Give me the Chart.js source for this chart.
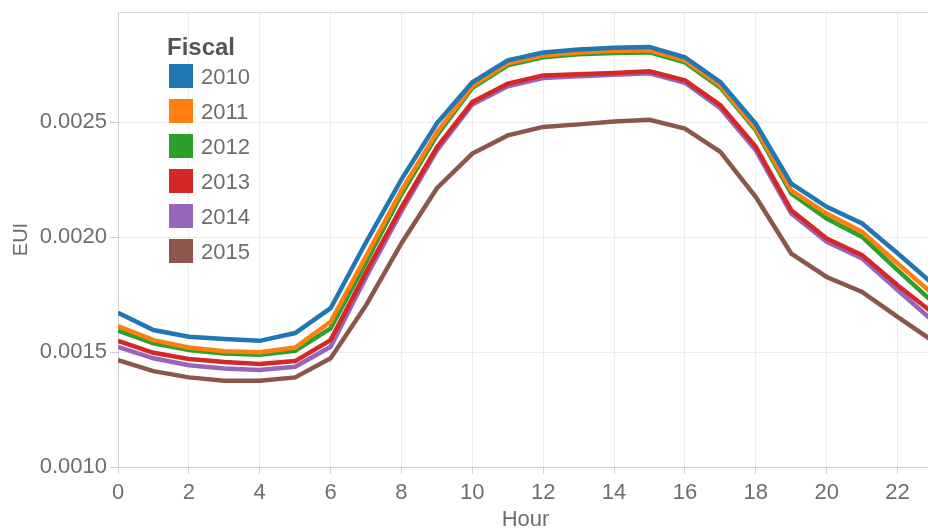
<!DOCTYPE html>
<html>
<head>
<meta charset="utf-8">
<script src="https://cdn.jsdelivr.net/npm/chart.js@4.4.0/dist/chart.umd.min.js"></script>
<style>
  html, body { margin: 0; padding: 0; background: #fff; overflow: hidden; }
  #wrap { width: 928px; height: 531px; overflow: hidden; }
</style>
</head>
<body>
<div id="wrap"><canvas id="euiChart" width="950" height="531"></canvas></div>
<script>
    // 시간대 (x축)
    const hours = [0, 1, 2, 3, 4, 5, 6, 7, 8, 9, 10, 11, 12, 13, 14, 15, 16, 17, 18, 19, 20, 21, 22, 23];

    const fiscalYears = ['2010', '2011', '2012', '2013', '2014', '2015'];
    const lineColors = ['#1f77b4', '#ff7f0e', '#2ca02c', '#d62728', '#9467bd', '#8c564b'];

    const eui2010 = [0.001671, 0.001596, 0.001567, 0.001557, 0.001549, 0.001583, 0.001691, 0.001978, 0.002252, 0.002496, 0.002674, 0.002770,
                     0.002804, 0.002817, 0.002824, 0.002828, 0.002783, 0.002675, 0.002493, 0.002233, 0.002132, 0.002060, 0.001930, 0.001796];
    const eui2011 = [0.001613, 0.001552, 0.001520, 0.001504, 0.001499, 0.001520, 0.001632, 0.001917, 0.002204, 0.002457, 0.002657, 0.002757,
                     0.002791, 0.002804, 0.002811, 0.002813, 0.002770, 0.002659, 0.002473, 0.002204, 0.002103, 0.002023, 0.001886, 0.001752];
    const eui2012 = [0.001593, 0.001538, 0.001509, 0.001494, 0.001488, 0.001506, 0.001603, 0.001891, 0.002187, 0.002443, 0.002650, 0.002748,
                     0.002783, 0.002796, 0.002802, 0.002804, 0.002761, 0.002651, 0.002465, 0.002190, 0.002081, 0.002001, 0.001857, 0.001717];
    const eui2013 = [0.001549, 0.001497, 0.001470, 0.001457, 0.001448, 0.001461, 0.001552, 0.001848, 0.002130, 0.002391, 0.002588, 0.002668,
                     0.002704, 0.002709, 0.002715, 0.002722, 0.002683, 0.002574, 0.002393, 0.002117, 0.001994, 0.001922, 0.001791, 0.001670];
    const eui2014 = [0.001523, 0.001473, 0.001443, 0.001429, 0.001422, 0.001436, 0.001523, 0.001826, 0.002113, 0.002378, 0.002578, 0.002657,
                     0.002693, 0.002700, 0.002707, 0.002713, 0.002672, 0.002561, 0.002378, 0.002103, 0.001980, 0.001907, 0.001770, 0.001635];
    const eui2015 = [0.001465, 0.001417, 0.001390, 0.001375, 0.001375, 0.001390, 0.001473, 0.001704, 0.001974, 0.002213, 0.002364, 0.002443,
                     0.002480, 0.002491, 0.002504, 0.002511, 0.002473, 0.002371, 0.002175, 0.001929, 0.001827, 0.001762, 0.001653, 0.001548];

    const seriesValues = [eui2010, eui2011, eui2012, eui2013, eui2014, eui2015];

    const legendTitle = 'Fiscal';
    const xTitle = 'Hour';
    const yTitle = 'EUI';

    const fontFamily = '"Liberation Sans", Arial, sans-serif';
    const textGray = '#6e6e6e';

    // 범례를 차트 영역 안쪽 좌상단에 그림
    const fiscalLegend = {
        id: 'fiscalLegend',
        afterDraw(chart) {
            const ctx = chart.ctx;
            ctx.save();
            ctx.textBaseline = 'alphabetic';
            ctx.textAlign = 'left';
            ctx.font = 'bold 24px ' + fontFamily;
            ctx.fillStyle = '#555555';
            ctx.fillText(legendTitle, 167, 55);
            ctx.font = '22px ' + fontFamily;
            chart.data.datasets.forEach((ds, i) => {
                const top = 64 + i * 35;
                ctx.fillStyle = ds.borderColor;
                ctx.fillRect(169, top, 24, 24);
                ctx.fillStyle = textGray;
                ctx.fillText(ds.label, 201, top + 20);
            });
            ctx.restore();
        }
    };

    // 차트 상단 테두리
    const topBorder = {
        id: 'topBorder',
        beforeDatasetsDraw(chart) {
            const {ctx, chartArea} = chart;
            ctx.save();
            ctx.strokeStyle = '#dcdcdc';
            ctx.lineWidth = 1;
            ctx.beginPath();
            ctx.moveTo(chartArea.left, chartArea.top + 0.5);
            ctx.lineTo(chartArea.right, chartArea.top + 0.5);
            ctx.stroke();
            ctx.restore();
        }
    };

    const ctx = document.getElementById('euiChart').getContext('2d');

    new Chart(ctx, {
        type: 'line',
        data: {
            datasets: fiscalYears.map((year, i) => ({
                label: year,
                data: hours.map((h, j) => ({ x: h, y: seriesValues[i][j] })),
                borderColor: lineColors[i],
                backgroundColor: lineColors[i],
                borderWidth: 4.5,
                pointRadius: 0,
                tension: 0,
                fill: false
            }))
        },
        options: {
            responsive: false,
            animation: false,
            layout: { padding: { top: 12, right: 17, left: 0, bottom: 0 } },
            plugins: {
                legend: { display: false },
                tooltip: { enabled: false }
            },
            scales: {
                x: {
                    type: 'linear',
                    min: 0,
                    max: 23,
                    afterFit: (scale) => {
                        scale.height = 64;
                        scale.paddingLeft = 0;
                        scale.paddingRight = 0;
                    },
                    grid: { color: '#ececec', tickColor: '#cfcfcf', tickLength: 7 },
                    border: { color: '#cfcfcf' },
                    ticks: {
                        stepSize: 2,
                        includeBounds: false,
                        maxRotation: 0,
                        padding: 6,
                        color: textGray,
                        font: { family: fontFamily, size: 22 }
                    },
                    title: {
                        display: true,
                        text: xTitle,
                        color: textGray,
                        padding: 0,
                        font: { family: fontFamily, size: 22, lineHeight: 1 }
                    }
                },
                y: {
                    min: 0.0010,
                    max: 0.00298,
                    afterFit: (scale) => {
                        scale.width = 118;
                        scale.paddingTop = 0;
                        scale.paddingBottom = 0;
                    },
                    grid: { color: '#ececec', tickColor: '#cfcfcf', tickLength: 8 },
                    border: { color: '#cfcfcf' },
                    ticks: {
                        stepSize: 0.0005,
                        includeBounds: false,
                        padding: 3,
                        color: textGray,
                        font: { family: fontFamily, size: 22 },
                        callback: (v) => Number(v).toFixed(4)
                    },
                    title: {
                        display: true,
                        text: yTitle,
                        color: textGray,
                        padding: { top: 9, bottom: 0 },
                        font: { family: fontFamily, size: 20 }
                    }
                }
            }
        },
        plugins: [topBorder, fiscalLegend]
    });
</script>
</body>
</html>
